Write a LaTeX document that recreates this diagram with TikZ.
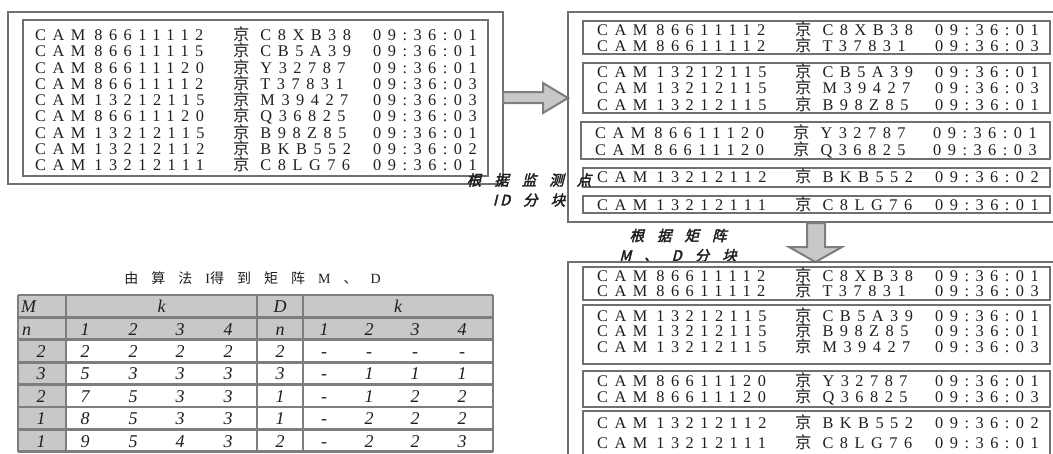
\documentclass[tikz,border=0pt]{standalone}
\usepackage{fontspec}
\setmainfont{Liberation Serif}
\newfontfamily\datfont[LetterSpace=40]{Liberation Serif}
\newfontfamily\cjk{Noto Sans CJK SC}
\newfontfamily\cjkbi[FakeSlant=0.25,FakeBold=2.5]{Noto Sans CJK SC}
\definecolor{edge}{RGB}{112,112,112}
\definecolor{cellgray}{RGB}{200,200,200}
\definecolor{ink}{RGB}{30,30,30}
\newcommand\gp{\hspace{13pt}}
\newcommand\zh[1]{{\cjk #1}}
% one record: camera id, plate, time
\newcommand\rec[3]{\makebox[198pt][l]{CAM\hspace{9pt}#1}\makebox[140pt][l]{{\cjk 京}\hspace{11pt}#2}#3}

\begin{document}
\begin{tikzpicture}[x=1pt,y=-1pt,
  frame/.style={draw=edge, line width=2.6pt},
  rowtext/.style={anchor=base west, inner sep=0pt, text=ink,
    font=\datfont\fontsize{16.3}{16}\selectfont},
  blockarrow/.style={draw=edge!90, fill=cellgray, line width=2pt, line join=miter},
  lab/.style={inner sep=0pt, text=ink, align=center,
    font=\cjkbi\fontsize{14.5}{20}\selectfont},
  grid/.style={draw=edge!90, line width=2.8pt},
  tc/.style={anchor=base, inner sep=0pt, text=ink,
    font=\itshape\fontsize{18}{18}\selectfont},
]
\useasboundingbox (0,0) rectangle (1053,453);
\clip (0,0) rectangle (1053,453);

% ---------- unsorted records ----------
\draw[frame] (8,12) rectangle (503,184);
\draw[frame] (23,20) rectangle (488,176);
\node[rowtext] (a1) at (35,40.5)  {\rec{86611112}{C8XB38}{09:36:01}};
\node[rowtext] (a2) at (35,56.7)  {\rec{86611115}{CB5A39}{09:36:01}};
\node[rowtext] (a3) at (35,73)    {\rec{86611120}{Y32787}{09:36:01}};
\node[rowtext] (a4) at (35,89.2)  {\rec{86611112}{T37831}{09:36:03}};
\node[rowtext] (a5) at (35,105.5) {\rec{13212115}{M39427}{09:36:03}};
\node[rowtext] (a6) at (35,121.7) {\rec{86611120}{Q36825}{09:36:03}};
\node[rowtext] (a7) at (35,138)   {\rec{13212115}{B98Z85}{09:36:01}};
\node[rowtext] (a8) at (35,154.2) {\rec{13212112}{BKB552}{09:36:02}};
\node[rowtext] (a9) at (35,170.5) {\rec{13212111}{C8LG76}{09:36:01}};

% ---------- arrow to the blocks by camera id ----------
\draw[blockarrow] (503,92) -- (543,92) -- (543,83) -- (568,98) -- (543,113)
  -- (543,103) -- (503,103) -- cycle;

% ---------- blocks by camera id ----------
\draw[frame] (1060,12) -- (568,12) -- (568,222) -- (1060,222);
\draw[frame] (583,21) rectangle (1050,54);
\draw[frame] (583,63) rectangle (1050,113);
\draw[frame] (581,122) rectangle (1050,159);
\draw[frame] (583,168) rectangle (1050,187);
\draw[frame] (583,196) rectangle (1050,213);
\node[rowtext] (b1) at (597,35.5)  {\rec{86611112}{C8XB38}{09:36:01}};
\node[rowtext] (b2) at (597,51.5)  {\rec{86611112}{T37831}{09:36:03}};
\node[rowtext] (b3) at (597,77.5)  {\rec{13212115}{CB5A39}{09:36:01}};
\node[rowtext] (b4) at (597,93.5)  {\rec{13212115}{M39427}{09:36:03}};
\node[rowtext] (b5) at (597,110.5) {\rec{13212115}{B98Z85}{09:36:01}};
\node[rowtext] (b6) at (595,138.5) {\rec{86611120}{Y32787}{09:36:01}};
\node[rowtext] (b7) at (595,155.5) {\rec{86611120}{Q36825}{09:36:03}};
\node[rowtext] (b8) at (597,182.5) {\rec{13212112}{BKB552}{09:36:02}};
\node[rowtext] (b9) at (597,210.5) {\rec{13212111}{C8LG76}{09:36:01}};

\node[lab] (lab1) at (529,190) {根\gp 据\gp 监\gp 测\gp 点\\I\hspace{3pt}D\gp 分\gp 块};

% ---------- arrow to the blocks by matrices ----------
\draw[blockarrow] (807,223) -- (825,223) -- (825,247) -- (842,247) -- (815.5,262)
  -- (789,247) -- (807,247) -- cycle;
\node[lab] (lab2) at (678,245.5) {根\gp 据\gp 矩\gp 阵\\M\gp 、\gp D\gp 分\gp 块};

% ---------- blocks by matrices M, D ----------
\draw[frame] (1060,262) -- (568,262) -- (568,460);
\draw[frame] (583,267) rectangle (1050,300);
\draw[frame] (583,305) rectangle (1050,364);
\draw[frame] (583,371) rectangle (1050,407);
\draw[frame] (583,411) rectangle (1050,470);
\node[rowtext] (c1) at (597,281.5) {\rec{86611112}{C8XB38}{09:36:01}};
\node[rowtext] (c2) at (597,296)   {\rec{86611112}{T37831}{09:36:03}};
\node[rowtext] (c3) at (597,321.5) {\rec{13212115}{CB5A39}{09:36:01}};
\node[rowtext] (c4) at (597,336.5) {\rec{13212115}{B98Z85}{09:36:01}};
\node[rowtext] (c5) at (597,352)   {\rec{13212115}{M39427}{09:36:03}};
\node[rowtext] (c6) at (597,386.5) {\rec{86611120}{Y32787}{09:36:01}};
\node[rowtext] (c7) at (597,402.5) {\rec{86611120}{Q36825}{09:36:03}};
\node[rowtext] (c8) at (597,428.5) {\rec{13212112}{BKB552}{09:36:02}};
\node[rowtext] (c9) at (597,448.5) {\rec{13212111}{C8LG76}{09:36:01}};

% ---------- matrices M and D ----------
\node[inner sep=0pt, text=ink, font=\fontsize{14}{16}\selectfont] (cap) at (252.5,278)
  {\zh{由}\gp\zh{算}\gp\zh{法}\gp I\zh{得}\gp\zh{到}\gp\zh{矩}\gp\zh{阵}\gp M\gp\zh{、}\gp D};

\fill[cellgray] (18,295) rectangle (493,339.8);
\fill[cellgray] (18,339.8) rectangle (66,451.8);
\foreach \y in {295,317.4,339.8,362.2,384.6,407,429.4,451.8}
  \draw[grid] (18,\y) -- (493,\y);
\foreach \x in {18,66,257,303,493}
  \draw[grid] (\x,295) -- (\x,451.8);

\node[tc, anchor=base west] (hM) at (21,312.7) {M};
\node[tc] (hk1) at (161.5,312.7) {k};
\node[tc] (hD) at (280,312.7) {D};
\node[tc] (hk2) at (398,312.7) {k};

\node[tc, anchor=base west] (nM) at (22,335.1) {n};
\node[tc] (nD) at (280,335.1) {n};
\foreach \k/\xa/\xb in {1/85/324, 2/133/369, 3/180/415, 4/228/462} {
  \node[tc] (mk\k) at (\xa,335.1) {\k};
  \node[tc] (dk\k) at (\xb,335.1) {\k};
}

\foreach \m/\a/\b/\c/\d/\e/\f/\g/\h/\i [count=\r] in {
    2/2/2/2/2/2/-/-/-/-,
    3/5/3/3/3/3/-/1/1/1,
    2/7/5/3/3/1/-/1/2/2,
    1/8/5/3/3/1/-/2/2/2,
    1/9/5/4/3/2/-/2/2/3} {
  \pgfmathsetmacro\yb{335.1+22.4*\r}
  \node[tc] (r\r-0) at (41,\yb)  {\m};
  \node[tc] (r\r-1) at (85,\yb)  {\a};
  \node[tc] (r\r-2) at (133,\yb) {\b};
  \node[tc] (r\r-3) at (180,\yb) {\c};
  \node[tc] (r\r-4) at (228,\yb) {\d};
  \node[tc] (r\r-5) at (280,\yb) {\e};
  \node[tc] (r\r-6) at (324,\yb) {\f};
  \node[tc] (r\r-7) at (369,\yb) {\g};
  \node[tc] (r\r-8) at (415,\yb) {\h};
  \node[tc] (r\r-9) at (462,\yb) {\i};
}
\end{tikzpicture}
\end{document}
